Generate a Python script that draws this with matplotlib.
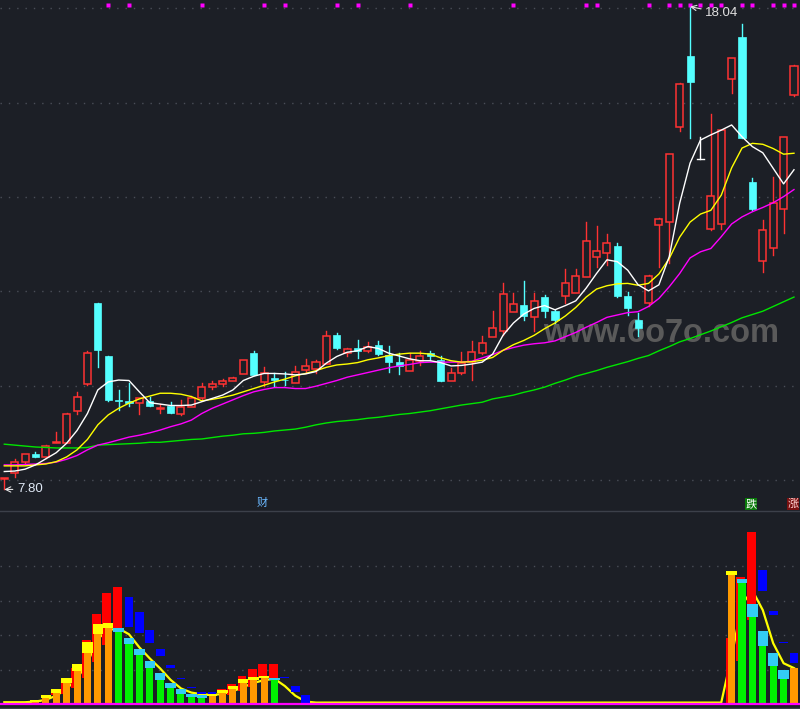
import matplotlib
matplotlib.use('Agg')
import matplotlib.pyplot as plt
from matplotlib.patches import Rectangle
from matplotlib.lines import Line2D

plt.rcParams['font.family'] = ['Liberation Sans', 'Noto Sans CJK SC', 'DejaVu Sans']

BG = '#1c1f26'
RED = '#ff3232'
CYAN = '#54ffff'
GRID = '#4a4e58'

# ---------------- price data (one entry per trading day) ----------------
opens = [8.02, 8.14, 8.39, 8.55, 8.49, 8.78, 8.79, 9.47, 10.03, 11.75,
         10.63, 9.69, 9.68, 9.63, 9.68, 9.51, 9.58, 9.41, 9.55, 9.73,
         9.98, 10.03, 10.10, 10.25, 10.69, 10.08, 10.16, 10.13, 10.06, 10.33,
         10.36, 10.47, 11.08, 10.69, 10.79, 10.74, 10.86, 10.65, 10.50, 10.32,
         10.53, 10.69, 10.55, 10.11, 10.26, 10.50, 10.69, 11.04, 11.15, 11.57,
         11.71, 11.46, 11.89, 11.59, 11.90, 11.97, 12.31, 12.74, 12.81, 12.97,
         11.90, 11.39, 11.76, 13.41, 13.48, 15.49, 16.99, 14.80, 13.32, 13.42,
         16.50, 17.39, 14.31, 12.64, 12.93, 13.74, 16.16]
highs = [8.04, 8.44, 8.56, 8.60, 8.74, 9.01, 9.42, 9.87, 10.74, 11.76,
         10.64, 9.91, 10.06, 9.74, 9.76, 9.61, 9.66, 9.70, 9.79, 10.05,
         10.10, 10.14, 10.19, 10.55, 10.74, 10.40, 10.27, 10.30, 10.42, 10.56,
         10.55, 11.16, 11.12, 10.81, 10.97, 10.92, 10.95, 10.84, 10.69, 10.69,
         10.73, 10.73, 10.63, 10.38, 10.72, 10.94, 11.06, 11.58, 12.18, 11.97,
         12.23, 11.97, 11.93, 11.60, 12.47, 12.47, 13.48, 13.39, 13.22, 13.02,
         11.99, 11.54, 12.34, 13.55, 14.92, 16.41, 18.04, 15.28, 15.76, 15.43,
         16.95, 17.67, 14.40, 13.51, 14.42, 15.28, 16.80]
lows = [7.80, 8.07, 8.35, 8.48, 8.47, 8.78, 8.78, 9.41, 10.02, 10.40,
        9.68, 9.48, 9.58, 9.41, 9.57, 9.43, 9.42, 9.38, 9.54, 9.72,
        9.94, 10.00, 10.09, 10.24, 10.22, 9.99, 9.99, 10.01, 10.05, 10.28,
        10.28, 10.46, 10.78, 10.63, 10.59, 10.72, 10.66, 10.30, 10.25, 10.31,
        10.44, 10.54, 10.09, 10.10, 10.25, 10.13, 10.68, 11.03, 11.08, 11.56,
        11.39, 11.15, 11.46, 11.33, 11.75, 11.96, 12.30, 12.51, 12.55, 11.89,
        11.50, 11.06, 11.70, 12.51, 12.61, 15.41, 15.26, 14.80, 13.31, 13.32,
        16.20, 15.25, 13.73, 12.42, 12.77, 13.23, 16.15]
closes = [8.04, 8.39, 8.55, 8.49, 8.72, 8.80, 9.41, 9.75, 10.69, 10.76,
          9.70, 9.68, 9.63, 9.73, 9.58, 9.53, 9.43, 9.55, 9.73, 9.97,
          10.03, 10.10, 10.16, 10.55, 10.23, 10.28, 10.12, 10.12, 10.30, 10.42,
          10.50, 11.05, 10.79, 10.77, 10.74, 10.83, 10.67, 10.51, 10.42, 10.55,
          10.63, 10.64, 10.10, 10.26, 10.49, 10.71, 10.90, 11.22, 11.94, 11.73,
          11.48, 11.80, 11.59, 11.39, 12.17, 12.33, 13.06, 12.85, 13.02, 11.90,
          11.65, 11.22, 12.33, 13.53, 14.91, 16.40, 16.45, 14.80, 14.02, 15.42,
          16.94, 15.26, 13.74, 13.30, 13.87, 15.27, 16.79]

ma5 = [8.18, 8.19, 8.23, 8.32, 8.45, 8.58, 8.78, 9.05, 9.41, 9.91,
       10.08, 10.12, 10.11, 9.87, 9.64, 9.61, 9.58, 9.58, 9.59, 9.66,
       9.73, 9.80, 9.91, 10.11, 10.20, 10.26, 10.26, 10.25, 10.23, 10.25,
       10.30, 10.48, 10.62, 10.71, 10.74, 10.83, 10.79, 10.69, 10.63, 10.57,
       10.53, 10.53, 10.49, 10.42, 10.43, 10.46, 10.50, 10.67, 11.07, 11.33,
       11.52, 11.64, 11.70, 11.61, 11.70, 11.80, 12.07, 12.38, 12.67, 12.63,
       12.45, 12.14, 12.01, 12.14, 12.74, 13.87, 14.72, 15.21, 15.32, 15.42,
       15.53, 15.28, 15.07, 14.94, 14.61, 14.28, 14.58]
ma10 = [8.30, 8.30, 8.30, 8.32, 8.34, 8.39, 8.49, 8.64, 8.86, 9.17,
        9.38, 9.52, 9.63, 9.72, 9.78, 9.84, 9.84, 9.82, 9.77, 9.68,
        9.71, 9.75, 9.80, 9.87, 9.94, 10.01, 10.08, 10.14, 10.21, 10.26,
        10.32, 10.39, 10.44, 10.46, 10.49, 10.55, 10.59, 10.64, 10.67, 10.69,
        10.69, 10.67, 10.59, 10.53, 10.50, 10.51, 10.54, 10.60, 10.75, 10.87,
        10.96, 11.07, 11.21, 11.33, 11.48, 11.66, 11.88, 12.05, 12.12, 12.16,
        12.17, 12.13, 12.17, 12.37, 12.70, 13.15, 13.47, 13.64, 13.72, 14.04,
        14.62, 15.04, 15.14, 15.12, 15.03, 14.91, 14.93]
ma20 = [8.32, 8.32, 8.33, 8.34, 8.35, 8.38, 8.44, 8.52, 8.64, 8.74,
        8.79, 8.85, 8.91, 8.95, 9.00, 9.06, 9.13, 9.19, 9.27, 9.41,
        9.52, 9.61, 9.70, 9.79, 9.87, 9.92, 9.96, 9.96, 9.94, 9.94,
        9.99, 10.05, 10.11, 10.18, 10.23, 10.28, 10.33, 10.38, 10.42, 10.45,
        10.49, 10.50, 10.50, 10.50, 10.50, 10.52, 10.59, 10.66, 10.75, 10.81,
        10.86, 10.89, 10.91, 10.95, 11.04, 11.13, 11.24, 11.34, 11.45, 11.50,
        11.55, 11.57, 11.68, 11.85, 12.10, 12.38, 12.71, 12.84, 12.91, 13.16,
        13.43, 13.58, 13.69, 13.78, 13.88, 14.01, 14.16]
ma60 = [8.76, 8.74, 8.72, 8.70, 8.69, 8.68, 8.68, 8.68, 8.69, 8.74,
        8.75, 8.76, 8.77, 8.78, 8.80, 8.80, 8.82, 8.84, 8.86, 8.87,
        8.90, 8.93, 8.95, 8.98, 8.99, 9.01, 9.04, 9.06, 9.08, 9.12,
        9.17, 9.21, 9.24, 9.26, 9.28, 9.31, 9.33, 9.36, 9.39, 9.41,
        9.44, 9.47, 9.51, 9.55, 9.59, 9.62, 9.65, 9.72, 9.76, 9.80,
        9.86, 9.91, 9.97, 10.05, 10.12, 10.20, 10.26, 10.32, 10.39, 10.45,
        10.51, 10.58, 10.64, 10.74, 10.83, 10.93, 11.00, 11.08, 11.16, 11.25,
        11.34, 11.44, 11.51, 11.58, 11.68, 11.78, 11.88]

signal_days = [10, 12, 19, 25, 27, 32, 34, 39, 49, 56, 57, 62, 64, 65, 66,
               67, 68, 69, 71, 72, 74, 75, 76]
price_ticks = [8, 10, 12, 14, 16, 18]
hi_label, lo_label = '18.04', '7.80'

# ---------------- lower indicator ----------------
bar_idx = [2, 3, 4, 5, 6, 7, 8, 9, 10, 11, 12, 13, 14, 15, 16, 17, 18, 19,
           20, 21, 22, 23, 24, 25, 26, 70, 71, 72, 73, 74, 75, 76]
bar_body = [0.03, 0.07, 0.19, 0.33, 0.61, 0.97, 1.48, 2.04, 2.22, 2.11, 1.76,
            1.43, 1.06, 0.71, 0.48, 0.31, 0.21, 0.19, 0.25, 0.33, 0.45, 0.63,
            0.71, 0.76, 0.71, 3.75, 3.53, 2.54, 1.70, 1.12, 0.73, 1.04]
bar_cap = [0.05, 0.13, 0.27, 0.44, 0.76, 1.17, 1.81, 2.32, 2.35, 2.20, 1.92,
           1.60, 1.26, 0.91, 0.62, 0.44, 0.31, 0.26, 0.30, 0.42, 0.54, 0.73,
           0.79, 0.83, 0.77, 3.85, 3.63, 2.91, 2.13, 1.50, 1.00, 1.06]
bar_rise = [1, 1, 1, 1, 1, 1, 1, 1, 1, 0, 0, 0, 0, 0, 0, 0, 0, 0,
            1, 1, 1, 1, 1, 1, 0, 1, 0, 0, 0, 0, 0, 1]
red_idx = [5, 6, 7, 8, 9, 10, 11, 21, 22, 23, 24, 25, 26, 70, 71, 72]
red_low = [0.27, 0.30, 0.48, 0.77, 1.24, 1.72, 2.20, 0.37, 0.27, 0.39, 0.51,
           0.76, 0.77, 0.00, 1.26, 2.44]
red_high = [0.44, 0.75, 1.06, 1.86, 2.62, 3.23, 3.40, 0.44, 0.59, 0.82, 1.02,
            1.17, 1.17, 1.91, 3.68, 4.98]
blue_idx = [12, 13, 14, 15, 16, 17, 18, 19, 20, 27, 28, 29, 73, 74, 75, 76]
blue_low = [2.23, 2.08, 1.77, 1.41, 1.06, 0.74, 0.48, 0.31, 0.31, 0.77, 0.36,
            0.00, 3.29, 2.59, 1.79, 1.21]
blue_high = [3.10, 2.68, 2.15, 1.59, 1.13, 0.77, 0.50, 0.37, 0.36, 0.79, 0.54,
             0.27, 3.89, 2.71, 1.82, 1.48]
ind_line = [0.06, 0.06, 0.06, 0.08, 0.13, 0.25, 0.45, 0.75, 1.20, 1.90,
            2.15, 2.20, 2.03, 1.65, 1.33, 1.04, 0.71, 0.46, 0.34, 0.29,
            0.27, 0.30, 0.38, 0.50, 0.62, 0.70, 0.74, 0.53, 0.25, 0.08,
            0.05, 0.05, 0.05, 0.05, 0.05, 0.05, 0.05, 0.05, 0.05, 0.05,
            0.05, 0.05, 0.05, 0.05, 0.05, 0.05, 0.05, 0.05, 0.05, 0.05,
            0.05, 0.05, 0.05, 0.05, 0.05, 0.05, 0.05, 0.05, 0.05, 0.05,
            0.05, 0.05, 0.05, 0.05, 0.05, 0.05, 0.05, 0.05, 0.05, 0.05,
            1.40, 2.90, 3.30, 2.73, 1.77, 1.19, 1.05]
ind_ticks = [1, 2, 3, 4]

# ---------------- figure ----------------
W, H = 800.0, 709.0
fig = plt.figure(figsize=(8, 7.09), dpi=100, facecolor=BG)
ax = fig.add_axes([0, (H - 510) / H, 1, 510 / H])
axb = fig.add_axes([0, 0, 1, 197 / H])
for a in (ax, axb):
    a.set_facecolor(BG)
    a.set_axis_off()
    a.set_xlim(-0.414, 76.58)
ax.set_ylim(7.364, 18.18)
axb.set_ylim(-0.136, 5.574)

n = len(closes)
bw = 0.68
for p in price_ticks:
    ax.axhline(p, color=GRID, lw=1, ls=(0, (1, 5)), zorder=0)

# watermark (below candles and lines)
ax.text(543 / W, 1 - 334 / 510, 'www.6o7o.com', transform=ax.transAxes,
        fontsize=23.5, fontweight='bold', color='#5a5a5a', va='center',
        ha='left', family='Liberation Sans', zorder=1)

for i in range(n):
    o, h, l, c = opens[i], highs[i], lows[i], closes[i]
    top, bot = max(o, c), min(o, c)
    if c > o:
        if h > top:
            ax.plot([i, i], [top, h], color=RED, lw=1, zorder=2)
        if l < bot:
            ax.plot([i, i], [l, bot], color=RED, lw=1, zorder=2)
        ax.add_patch(Rectangle((i - bw / 2, bot), bw, top - bot, fc=BG,
                               ec=RED, lw=1.1, zorder=3))
    elif c < o:
        ax.plot([i, i], [l, h], color=CYAN, lw=1, zorder=2)
        ax.add_patch(Rectangle((i - bw / 2, bot), bw, top - bot, fc=CYAN,
                               ec=CYAN, lw=0.5, zorder=3))
    else:
        ax.plot([i, i], [l, h], color='white', lw=1, zorder=2)
        ax.plot([i - bw / 2, i + bw / 2], [c, c], color='white', lw=1, zorder=2)

xs = list(range(n))
ax.plot(xs, ma60, color='#00e600', lw=1, zorder=4)
ax.plot(xs, ma20, color='#ff00ff', lw=1, zorder=4)
ax.plot(xs, ma10, color='#ffff00', lw=1, zorder=4)
ax.plot(xs, ma5, color='white', lw=1, zorder=5)

ax.plot(signal_days, [18.07] * len(signal_days), 's', color='#ff00ff',
        ms=3.0, mec='none', zorder=6)

hi_i = highs.index(max(highs))
lo_i = lows.index(min(lows))
ax.annotate(hi_label, xy=(hi_i, highs[hi_i]), xytext=(hi_i + 1.45, 17.90),
            color='#e0e0e0', fontsize=9.5, va='center', ha='left',
            arrowprops=dict(arrowstyle='->', color='#e0e0e0', lw=0.8,
                            shrinkA=1, shrinkB=0), zorder=7)
ax.annotate(lo_label, xy=(lo_i, lows[lo_i]), xytext=(lo_i + 1.22, 7.80),
            color='#dfe8f5', fontsize=9.5, va='center', ha='left',
            arrowprops=dict(arrowstyle='->', color='#e0e0e0', lw=0.8,
                            shrinkA=1, shrinkB=0), zorder=7)

# separator and labels
fig.add_artist(Line2D([0, 1], [1 - 511 / H] * 2, color='#3c404a', lw=1))
fig.text(262 / W, 1 - 503 / H, '财', color='#6ab8ff', fontsize=8,
         ha='center', va='center', family=['Noto Sans CJK SC', 'DejaVu Sans'])
fig.text(751 / W, 1 - 504 / H, '跌', color='white', fontsize=8,
         ha='center', va='center', family=['Noto Sans CJK SC', 'DejaVu Sans'],
         bbox=dict(boxstyle='square,pad=0.08', fc='#0a7a0a', ec='none'))
fig.text(793 / W, 1 - 504 / H, '涨', color='#ffd0d0', fontsize=8,
         ha='center', va='center', family=['Noto Sans CJK SC', 'DejaVu Sans'],
         bbox=dict(boxstyle='square,pad=0.08', fc='#7a1010', ec='none'))

# ---------------- lower panel drawing ----------------
for t in ind_ticks:
    axb.axhline(t, color=GRID, lw=1, ls=(0, (1, 5)), zorder=0)
axb.axhline(-0.1, color='#3c404a', lw=1, zorder=0)
axb.plot(xs, ind_line, color='#ffff00', lw=1.6, zorder=1)
for i, lo, hi in zip(red_idx, red_low, red_high):
    axb.add_patch(Rectangle((i - 0.55, lo), 0.85, hi - lo, fc='#ff0000',
                            ec='none', zorder=2))
for i, b, cp, r in zip(bar_idx, bar_body, bar_cap, bar_rise):
    body_c = '#ff9900' if r else '#00f000'
    cap_c = '#ffff00' if r else '#33ccf5'
    axb.add_patch(Rectangle((i - 0.34, 0), 0.68, b, fc=body_c, ec='none',
                            zorder=3))
    axb.add_patch(Rectangle((i - 0.5, b), 1.0, cp - b, fc=cap_c, ec='none',
                            zorder=4))
for i, lo, hi in zip(blue_idx, blue_low, blue_high):
    axb.add_patch(Rectangle((i - 0.42, lo), 0.84, hi - lo, fc='#0000ff',
                            ec='none', zorder=4))
axb.axhline(0, color='#ff00ff', lw=1.6, zorder=5)

fig.savefig('out.png', dpi=100, facecolor=BG)
